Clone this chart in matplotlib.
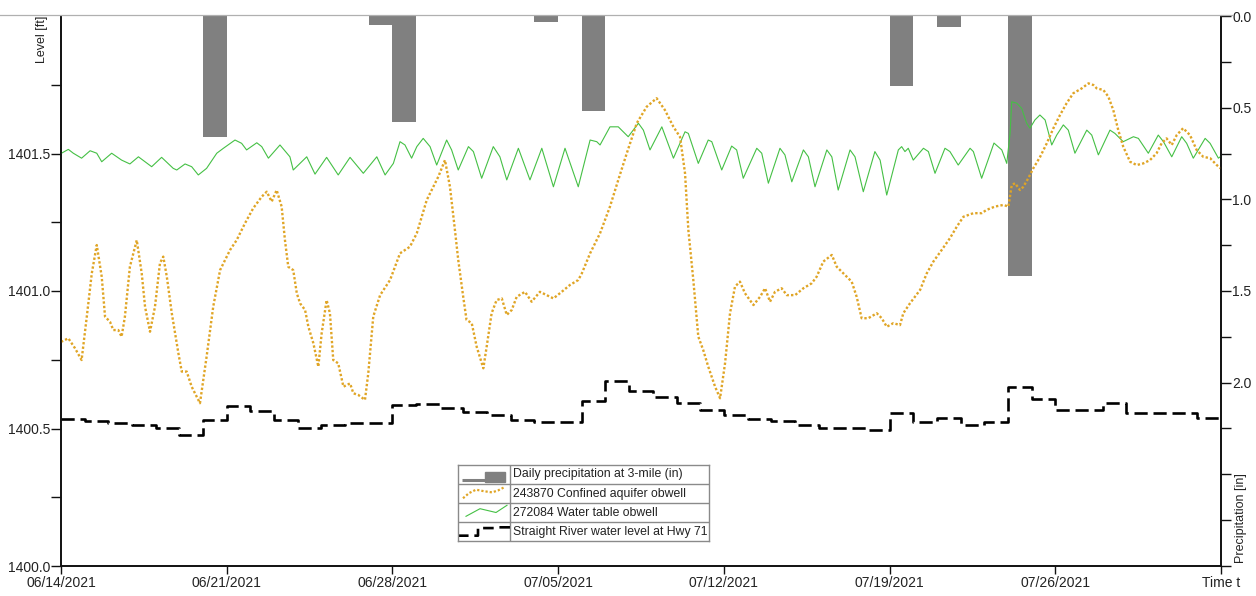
import matplotlib

matplotlib.use('Agg')
import numpy as np
import pandas as pd
import matplotlib.pyplot as plt
from matplotlib.lines import Line2D
from matplotlib.patches import Rectangle
from matplotlib.ticker import FixedLocator, FormatStrFormatter

plt.rcParams['font.family'] = ['Liberation Sans', 'DejaVu Sans']

START = pd.Timestamp('2021-06-14')
END = pd.Timestamp('2021-08-02')
week_ticks = pd.date_range(START, END, freq='7D')

# Daily precipitation at 3-mile (in)
precip_dates = ['2021-06-20', '2021-06-27', '2021-06-28', '2021-07-04',
                '2021-07-06', '2021-07-19', '2021-07-21', '2021-07-24']
precip_in = [0.66, 0.05, 0.58, 0.03, 0.52, 0.38, 0.06, 1.42]

# Straight River water level at Hwy 71, one value per day from 06/14
river_level = [1400.535, 1400.527, 1400.520, 1400.513, 1400.502, 1400.476, 1400.531,
               1400.582, 1400.564, 1400.531, 1400.502, 1400.513, 1400.520, 1400.520,
               1400.585, 1400.589, 1400.575, 1400.560, 1400.549, 1400.531, 1400.524,
               1400.524, 1400.600, 1400.673, 1400.636, 1400.615, 1400.593, 1400.567,
               1400.549, 1400.535, 1400.527, 1400.513, 1400.502, 1400.502, 1400.495,
               1400.556, 1400.524, 1400.538, 1400.513, 1400.524, 1400.651, 1400.607,
               1400.567, 1400.567, 1400.593, 1400.556, 1400.556, 1400.556, 1400.538]

# 243870 Confined aquifer obwell (days since 06/14, level ft)
confined_days = [0.00, 0.31, 0.59, 0.87, 1.09, 1.30, 1.51, 1.72, 1.86, 2.07, 2.21, 2.42,
                 2.56, 2.70, 2.91, 3.20, 3.41, 3.55, 3.76, 3.97, 4.18, 4.32, 4.47, 4.68,
                 4.96, 5.10, 5.31, 5.52, 5.87, 6.15, 6.43, 6.72, 7.14, 7.42, 7.77, 8.12,
                 8.48, 8.69, 8.90, 9.11, 9.32, 9.46, 9.60, 9.81, 9.96, 10.10, 10.31, 10.45,
                 10.66, 10.87, 11.01, 11.22, 11.36, 11.50, 11.71, 11.93, 12.21, 12.35,
                 12.56, 12.84, 12.98, 13.19, 13.48, 13.90, 14.32, 14.74, 15.03, 15.45,
                 15.94, 16.22, 16.43, 16.64, 16.78, 16.99, 17.13, 17.35, 17.56, 17.84,
                 17.98, 18.19, 18.40, 18.62, 18.83, 19.04, 19.25, 19.60, 19.88, 20.23,
                 20.52, 20.80, 21.15, 21.50, 21.85, 22.00, 22.35, 22.77, 23.19, 23.54,
                 23.90, 24.32, 24.74, 25.16, 25.51, 25.87, 26.15, 26.36, 26.50, 26.71,
                 26.92, 27.13, 27.34, 27.63, 27.84, 28.05, 28.26, 28.47, 28.68, 28.89,
                 29.25, 29.53, 29.74, 29.95, 30.16, 30.44, 30.66, 31.01, 31.36, 31.71,
                 31.92, 32.20, 32.56, 32.77, 33.05, 33.40, 33.61, 33.82, 34.10, 34.46,
                 34.67, 34.88, 35.16, 35.44, 35.58, 35.86, 36.29, 36.57, 36.85, 37.20,
                 37.55, 37.84, 38.12, 38.54, 38.89, 39.10, 39.45, 39.81, 40.02, 40.16,
                 40.30, 40.51, 40.65, 40.86, 41.07, 41.36, 41.64, 41.92, 42.20, 42.48,
                 42.76, 43.12, 43.40, 43.61, 43.75, 44.03, 44.24, 44.45, 44.66, 44.87,
                 45.16, 45.44, 45.72, 46.00, 46.28, 46.49, 46.70, 46.92, 47.13, 47.40,
                 47.69, 47.97, 48.25, 48.54, 48.82, 49.00]
confined_level = [1400.815, 1400.828, 1400.792, 1400.749, 1400.907, 1401.064, 1401.167,
                  1401.052, 1400.907, 1400.888, 1400.858, 1400.858, 1400.834, 1400.907,
                  1401.088, 1401.185, 1401.064, 1400.943, 1400.852, 1400.943, 1401.101,
                  1401.125, 1401.052, 1400.919, 1400.773, 1400.707, 1400.707, 1400.652,
                  1400.592, 1400.761, 1400.943, 1401.076, 1401.149, 1401.185, 1401.246,
                  1401.301, 1401.343, 1401.361, 1401.325, 1401.367, 1401.307, 1401.185,
                  1401.088, 1401.076, 1400.992, 1400.955, 1400.931, 1400.870, 1400.810,
                  1400.725, 1400.846, 1400.967, 1400.919, 1400.749, 1400.737, 1400.652,
                  1400.664, 1400.628, 1400.622, 1400.604, 1400.701, 1400.907, 1400.985,
                  1401.040, 1401.137, 1401.161, 1401.210, 1401.331, 1401.416, 1401.476,
                  1401.379, 1401.222, 1401.113, 1400.979, 1400.895, 1400.883, 1400.797,
                  1400.719, 1400.797, 1400.919, 1400.967, 1400.973, 1400.913, 1400.931,
                  1400.979, 1400.997, 1400.961, 1400.997, 1400.985, 1400.973, 1400.997,
                  1401.022, 1401.040, 1401.064, 1401.137, 1401.210, 1401.307, 1401.404,
                  1401.501, 1401.610, 1401.670, 1401.701, 1401.658, 1401.597, 1401.560,
                  1401.428, 1401.222, 1401.040, 1400.834, 1400.785, 1400.725, 1400.652,
                  1400.610, 1400.737, 1400.919, 1401.016, 1401.034, 1400.992, 1400.949,
                  1400.979, 1401.010, 1400.961, 1400.997, 1401.010, 1400.985, 1400.985,
                  1401.010, 1401.028, 1401.052, 1401.107, 1401.131, 1401.088, 1401.064,
                  1401.034, 1400.979, 1400.901, 1400.901, 1400.919, 1400.901, 1400.870,
                  1400.883, 1400.876, 1400.919, 1400.955, 1401.004, 1401.064, 1401.107,
                  1401.149, 1401.192, 1401.234, 1401.270, 1401.283, 1401.283, 1401.295,
                  1401.307, 1401.313, 1401.307, 1401.385, 1401.392, 1401.367, 1401.379,
                  1401.410, 1401.446, 1401.488, 1401.537, 1401.592, 1401.640, 1401.683,
                  1401.719, 1401.737, 1401.755, 1401.749, 1401.737, 1401.731, 1401.707,
                  1401.658, 1401.585, 1401.525, 1401.470, 1401.458, 1401.464, 1401.476,
                  1401.501, 1401.537, 1401.555, 1401.531, 1401.567, 1401.592, 1401.567,
                  1401.513, 1401.488, 1401.483, 1401.458, 1401.445]

# 272084 Water table obwell (days since 06/14, level ft)
table_days = [0.00, 0.31, 0.52, 0.87, 1.23, 1.51, 1.72, 2.14, 2.56, 2.91, 3.27, 3.55,
              3.83, 4.25, 4.74, 4.89, 5.24, 5.52, 5.80, 6.15, 6.58, 6.86, 7.35, 7.63,
              7.84, 8.27, 8.48, 8.76, 9.25, 9.67, 9.81, 10.24, 10.38, 10.73, 11.22, 11.71,
              12.21, 12.77, 13.34, 13.69, 14.04, 14.32, 14.53, 14.81, 15.03, 15.30, 15.59,
              15.87, 16.29, 16.50, 16.78, 17.21, 17.42, 17.77, 18.26, 18.54, 18.83, 19.32,
              19.81, 20.31, 20.80, 21.29, 21.85, 22.35, 22.63, 22.77, 23.19, 23.54, 23.96,
              24.39, 24.60, 24.88, 25.38, 25.87, 26.36, 26.50, 26.92, 27.34, 27.49, 27.91,
              28.33, 28.54, 28.82, 29.39, 29.60, 29.88, 30.37, 30.58, 30.87, 31.36, 31.57,
              31.85, 32.35, 32.56, 32.83, 33.33, 33.54, 33.89, 34.38, 34.60, 34.88, 35.37,
              35.51, 35.65, 35.79, 36.00, 36.43, 36.64, 36.92, 37.34, 37.55, 37.90, 38.40,
              38.54, 38.89, 39.41, 39.74, 39.95, 40.09, 40.16, 40.37, 40.58, 40.79, 40.93,
              41.14, 41.35, 41.57, 41.85, 42.06, 42.34, 42.55, 42.83, 43.33, 43.54, 43.82,
              44.31, 44.52, 44.87, 45.30, 45.51, 45.93, 46.35, 46.57, 46.92, 47.34, 47.55,
              47.83, 48.33, 48.54, 48.89, 49.00]
table_level = [1401.500, 1401.515, 1401.501, 1401.483, 1401.510, 1401.501, 1401.470,
               1401.501, 1401.476, 1401.462, 1401.488, 1401.470, 1401.452, 1401.486,
               1401.446, 1401.440, 1401.462, 1401.452, 1401.422, 1401.446, 1401.501,
               1401.519, 1401.549, 1401.537, 1401.513, 1401.539, 1401.525, 1401.483,
               1401.531, 1401.488, 1401.440, 1401.476, 1401.488, 1401.425, 1401.486,
               1401.422, 1401.486, 1401.428, 1401.488, 1401.422, 1401.464, 1401.543,
               1401.531, 1401.483, 1401.525, 1401.555, 1401.525, 1401.458, 1401.549,
               1401.513, 1401.440, 1401.525, 1401.507, 1401.410, 1401.525, 1401.488,
               1401.404, 1401.519, 1401.404, 1401.519, 1401.379, 1401.519, 1401.379,
               1401.549, 1401.543, 1401.531, 1401.597, 1401.597, 1401.561, 1401.610,
               1401.585, 1401.513, 1401.597, 1401.483, 1401.579, 1401.573, 1401.464,
               1401.549, 1401.543, 1401.440, 1401.527, 1401.513, 1401.410, 1401.519,
               1401.501, 1401.392, 1401.519, 1401.495, 1401.397, 1401.513, 1401.488,
               1401.379, 1401.513, 1401.488, 1401.367, 1401.513, 1401.488, 1401.361,
               1401.507, 1401.476, 1401.349, 1401.513, 1401.525, 1401.507, 1401.519,
               1401.476, 1401.519, 1401.507, 1401.428, 1401.519, 1401.507, 1401.458,
               1401.519, 1401.507, 1401.410, 1401.538, 1401.513, 1401.464, 1401.573,
               1401.688, 1401.683, 1401.664, 1401.610, 1401.592, 1401.622, 1401.640,
               1401.622, 1401.531, 1401.567, 1401.604, 1401.585, 1401.501, 1401.585,
               1401.567, 1401.495, 1401.585, 1401.573, 1401.543, 1401.561, 1401.555,
               1401.501, 1401.567, 1401.543, 1401.488, 1401.561, 1401.537, 1401.483,
               1401.555, 1401.537, 1401.483, 1401.490]

LEGEND_LABELS = ['Daily precipitation at 3-mile (in)',
                 '243870 Confined aquifer obwell',
                 '272084 Water table obwell',
                 'Straight River water level at Hwy 71']

BAR_C = '#808080'
CONF_C = '#E0A526'
TABLE_C = '#45C045'
TXT_C = '#222222'


def to_time(days):
    return START + pd.to_timedelta(np.asarray(days), unit='D')


fig = plt.figure(figsize=(12.56, 5.96), dpi=100)
ax = fig.add_axes([61 / 1256, 30 / 596, 1160 / 1256, 550 / 596])
ax2 = ax.twinx()
ax.set_zorder(ax2.get_zorder() + 1)
ax.patch.set_visible(False)

# precipitation bars hang from the top of the inverted right axis
ax2.bar(pd.to_datetime(precip_dates), precip_in, width=1.0, align='edge',
        color=BAR_C, edgecolor='none')
ax2.set_ylim(3.0, 0.0)

# water levels
ax.plot(to_time(table_days), table_level, color=TABLE_C, lw=0.8,
        solid_joinstyle='round')
ax.plot(to_time(confined_days), confined_level, color=CONF_C, lw=1.7,
        linestyle=(0, (1, 0.9)))
river_t = list(START + pd.to_timedelta(np.arange(len(river_level)), unit='D')) + [END]
ax.step(river_t, river_level + river_level[-1:], where='post', color='black',
        lw=1.9, linestyle=(0, (5, 2.2)))

ax.set_xlim(START, END)
ax.set_ylim(1400.0, 1402.0)

# axes styling
for a in (ax, ax2):
    a.spines['top'].set_visible(False)
    for s in ('left', 'right', 'bottom'):
        a.spines[s].set_linewidth(1.2)
        a.spines[s].set_color('#111111')

ax.yaxis.set_major_locator(FixedLocator([1400.0, 1400.5, 1401.0, 1401.5]))
ax.yaxis.set_minor_locator(FixedLocator([1400.25, 1400.75, 1401.25, 1401.75]))
ax.yaxis.set_major_formatter(FormatStrFormatter('%.1f'))
ax.tick_params(axis='y', which='both', direction='out', length=7, width=1,
               labelsize=10, colors='#111111', labelcolor=TXT_C, pad=1)

ax2.yaxis.set_major_locator(FixedLocator([0.0, 0.5, 1.0, 1.5, 2.0]))
ax2.yaxis.set_minor_locator(FixedLocator([0.25, 0.75, 1.25, 1.75, 2.25, 2.5, 2.75, 3.0]))
ax2.yaxis.set_major_formatter(FormatStrFormatter('%.1f'))
ax2.tick_params(axis='y', which='both', direction='out', length=7, width=1,
                labelsize=10, colors='#111111', labelcolor=TXT_C, pad=1)

tick_labels = [d.strftime('%m/%d/%Y') for d in week_ticks[:-1]] + ['Time t']
ax.set_xticks(week_ticks, tick_labels)
ax.tick_params(axis='x', direction='out', length=6, width=1, labelsize=10,
               colors='#111111', labelcolor=TXT_C, pad=1)

# axis titles
fig.text(42 / 1256, 1 - 16 / 596, 'Level [ft]', rotation=90, ha='center', va='top',
         fontsize=9, color=TXT_C)
fig.text(1241 / 1256, 1 - 563 / 596, 'Precipitation [in]', rotation=90, ha='center',
         va='bottom', fontsize=9, color=TXT_C)

# thin frame line along the top
fig.add_artist(Line2D([0, 1232 / 1256], [1 - 15 / 596, 1 - 15 / 596],
                      color='#b0b0b0', lw=0.9))

# legend table
lg = fig.add_axes([458 / 1256, 1 - 541 / 596, 251 / 1256, 76 / 596])
lg.set_xlim(0, 251)
lg.set_ylim(0, 4)
lg.set_xticks([])
lg.set_yticks([])
for s in lg.spines.values():
    s.set_color('#8a8a8a')
    s.set_linewidth(1.0)
for r in (1, 2, 3):
    lg.axhline(r, color='#8a8a8a', lw=1.0)
lg.axvline(52, color='#8a8a8a', lw=1.0)

# row 0: bar sample
lg.plot([4, 27], [3.22, 3.22], color=BAR_C, lw=2.2, solid_capstyle='butt')
lg.add_patch(Rectangle((27, 3.12), 20, 0.5, color=BAR_C))
# row 1: confined aquifer sample
lg.plot([5, 11, 18, 26, 34, 40, 47], [2.25, 2.52, 2.7, 2.62, 2.56, 2.66, 2.85],
        color=CONF_C, lw=1.6, linestyle=(0, (1, 0.9)))
# row 2: water table sample
lg.plot([8, 22, 38, 49], [1.3, 1.7, 1.5, 1.88], color=TABLE_C, lw=0.8)
# row 3: river sample
lg.plot([0, 20, 20, 36, 40, 52], [0.28, 0.28, 0.68, 0.68, 0.72, 0.72],
        color='black', lw=1.9, linestyle=(0, (4, 2.2)))

for i, text in enumerate(LEGEND_LABELS):
    lg.text(55, 3.5 - i, text, ha='left', va='center', fontsize=8.8, color=TXT_C)

fig.savefig('out.png', dpi=100)
